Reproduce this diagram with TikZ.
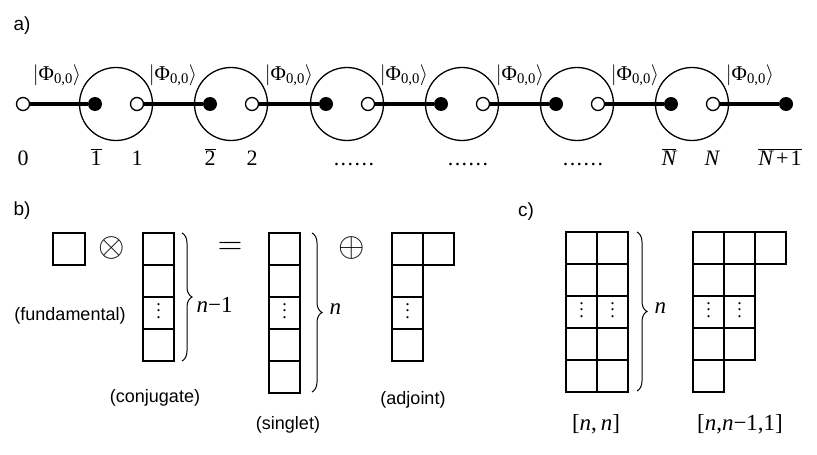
\RequirePackage{fix-cm}
\documentclass[tikz,border=0pt]{standalone}
\usepackage{fontspec}
\setmainfont{Liberation Serif}
\setsansfont{Liberation Sans}
\usetikzlibrary{decorations.pathreplacing}
\newcommand{\sixdots}{.\kern1.5pt.\kern1.5pt.\kern1.5pt.\kern1.5pt.\kern1.5pt.}
\newcommand{\tallvdots}{\vbox{\baselineskip6.5pt\lineskiplimit0pt\hbox{.}\hbox{.}\hbox{.}}}
\newcommand{\olbar}[1]{$\overline{\mbox{#1}}$}
\newcommand{\phiket}{$|$Φ\textsubscript{0,0}$\rangle$}
\begin{document}
\begin{tikzpicture}[x=1pt,y=-1pt,
  bigring/.style={circle,draw,line width=1.3pt,minimum size=73pt,inner sep=0pt},
  opendot/.style={circle,draw,fill=white,line width=1.3pt,minimum size=13pt,inner sep=0pt},
  fulldot/.style={circle,fill=black,minimum size=14pt,inner sep=0pt},
  bond/.style={line width=4.5pt},
  ket/.style={font=\fontsize{21}{23}\selectfont},
  site/.style={font=\fontsize{22}{24}\selectfont,anchor=base},
  panel/.style={font=\sffamily\fontsize{19}{22}\selectfont},
  caption/.style={font=\sffamily\fontsize{18}{21}\selectfont},
  yng/.style={line width=1.8pt},
  brc/.style={decorate,decoration={brace,amplitude=10pt},line width=1pt},
  mlab/.style={font=\fontsize{23}{25}\selectfont},
  vdot/.style={font=\fontsize{18}{20}\selectfont,inner sep=0pt},
  opsym/.style={font=\fontsize{34}{36}\selectfont}]
\useasboundingbox (0,0) rectangle (817,455);
% ---------- a) ----------
\node[panel] (la) at (22,26) {a)};
\foreach \i/\cx in {1/116,2/231,3/347,4/462,5/577,6/692}{
  \node[bigring] (r\i) at (\cx,104) {};
}
\node[opendot] (o0) at (23,104) {};
\foreach \i/\cx in {1/116,2/231,3/347,4/462,5/577,6/692}{
  \node[fulldot] (f\i) at (\cx-21,104) {};
  \node[opendot] (o\i) at (\cx+21,104) {};
}
\node[fulldot] (f7) at (786,104) {};
\draw[bond] (o0) -- (f1);
\draw[bond] (o1) -- (f2);
\draw[bond] (o2) -- (f3);
\draw[bond] (o3) -- (f4);
\draw[bond] (o4) -- (f5);
\draw[bond] (o5) -- (f6);
\draw[bond] (o6) -- (f7);
\foreach \i/\x in {1/57,2/173,3/289,4/404,5/520,6/635,7/750}{
  \node[ket] (k\i) at (\x,75) {\phiket};
}
\node[site] (s0) at (23,165) {0};
\node[site] (s1b) at (96,165) {\olbar{1}};
\node[site] (s1) at (137,165) {1};
\node[site] (s2b) at (210,165) {\olbar{2}};
\node[site] (s2) at (252,165) {2};
\node[site] (d1) at (354,165) {\sixdots};
\node[site] (d2) at (468,165) {\sixdots};
\node[site] (d3) at (583,165) {\sixdots};
\node[site] (sNb) at (669,165) {\olbar{\itshape N}};
\node[site] (sN) at (712,165) {\itshape N};
\node[site] (sN1) at (780,165) {\olbar{\itshape N\upshape\kern3pt+\kern2pt1}};
% ---------- b) ----------
\node[panel] (lb) at (22,211) {b)};
\draw[yng] (53,233) rectangle (85,265);
\node[opsym] (ot) at (112,248) {$\otimes$};
% conjugate column
\draw[yng] (143,233) rectangle (174,361);
\foreach \y in {265,297,329} \draw[yng] (143,\y) -- (174,\y);
\node[vdot] (cv) at (158.5,311) {\tallvdots};
\draw[brc] (182,233) -- (182,361);
\node[mlab,anchor=west] (nm1) at (193,305) {\textit{n}−1};
\node[opsym] (eq) at (230,248) {$=$};
% singlet column
\draw[yng] (269,233) rectangle (300,393);
\foreach \y in {265,297,329,361} \draw[yng] (269,\y) -- (300,\y);
\node[vdot] (sv) at (284.5,311) {\tallvdots};
\draw[brc] (312,233) -- (312,392);
\node[mlab,anchor=west] (nn) at (326,309) {\textit{n}};
\node[opsym] (op) at (352,248) {$\oplus$};
% adjoint
\draw[yng] (392,233) -- (454,233) -- (454,265) -- (423,265) -- (423,361) -- (392,361) -- cycle;
\draw[yng] (423,233) -- (423,265);
\foreach \y in {265,297,329} \draw[yng] (392,\y) -- (423,\y);
\node[vdot] (av) at (407.5,311) {\tallvdots};
\node[caption] (cf) at (70,316) {(fundamental)};
\node[caption] (cc) at (155,398) {(conjugate)};
\node[caption] (cs) at (288,425) {(singlet)};
\node[caption] (ca) at (413,400) {(adjoint)};
% ---------- c) ----------
\node[panel] (lc) at (526,212) {c)};
\draw[yng] (566,232) rectangle (628,392);
\draw[yng] (597,232) -- (597,392);
\foreach \y in {264,296,328,360} \draw[yng] (566,\y) -- (628,\y);
\node[vdot] (v1) at (581.5,310) {\tallvdots};
\node[vdot] (v2) at (612.5,310) {\tallvdots};
\draw[brc] (637,232) -- (637,391);
\node[mlab,anchor=west] (nc) at (651,308) {\textit{n}};
\draw[yng] (693,232) -- (786,232) -- (786,264) -- (755,264) -- (755,360) -- (724,360) -- (724,392) -- (693,392) -- cycle;
\draw[yng] (724,232) -- (724,360);
\draw[yng] (755,232) -- (755,264);
\foreach \y in {264,296,328} \draw[yng] (693,\y) -- (755,\y);
\draw[yng] (693,360) -- (724,360);
\node[vdot] (w1) at (708.5,310) {\tallvdots};
\node[vdot] (w2) at (739.5,310) {\tallvdots};
\node[mlab] (ln1) at (596,424) {[\textit{n},\,\textit{n}]};
\node[mlab] (ln2) at (740,424) {[\textit{n},\textit{n}−1,1]};
\end{tikzpicture}
\end{document}
